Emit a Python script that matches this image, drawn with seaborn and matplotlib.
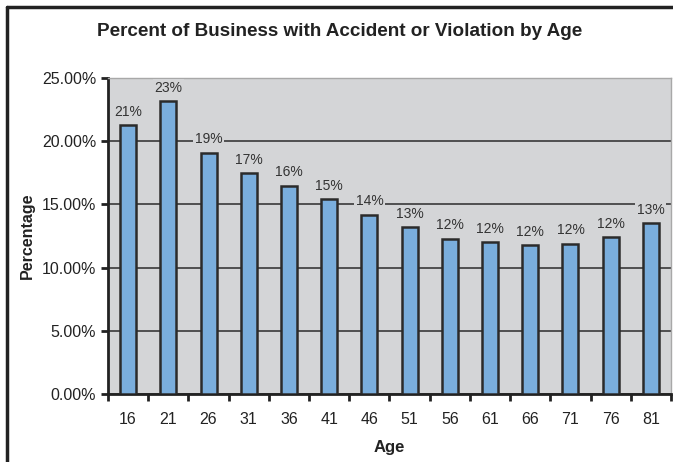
import numpy as np
import pandas as pd
import matplotlib
matplotlib.use("Agg")
import matplotlib.pyplot as plt
from matplotlib.lines import Line2D
from matplotlib.ticker import FuncFormatter, FixedLocator
import seaborn as sns

# data
ages = ["16", "21", "26", "31", "36", "41", "46", "51", "56", "61", "66", "71", "76", "81"]
pct = [21.3, 23.2, 19.1, 17.5, 16.5, 15.4, 14.2, 13.2, 12.3, 12.0, 11.8, 11.9, 12.4, 13.5]
labels = ["21%", "23%", "19%", "17%", "16%", "15%", "14%", "13%", "12%", "12%", "12%", "12%", "12%", "13%"]

df = pd.DataFrame({"Age": ages, "Percentage": pct})

sns.set_theme(style="white")
plt.rcParams["font.family"] = ["Liberation Sans", "DejaVu Sans"]

fig = plt.figure(figsize=(6.73, 4.62), dpi=100)
ax = fig.add_axes([0.1605, 0.147, 0.8365, 0.684])
ax.set_facecolor("#d4d5d7")

sns.barplot(data=df, x="Age", y="Percentage", color="#7aaedd", width=0.4,
            edgecolor="#2b2b2b", linewidth=1.8, saturation=1, ax=ax, zorder=3)

ax.set_ylim(0, 25)
ax.set_xlim(-0.5, len(ages) - 0.5)
ax.set_yticks(np.arange(0, 26, 5))
ax.yaxis.set_major_formatter(FuncFormatter(lambda v, p: f"{v:.2f}%"))
ax.grid(axis="y", color="#2b2b2b", linewidth=1.1, zorder=1)
ax.set_axisbelow(True)

# x ticks between categories
ax.xaxis.set_minor_locator(FixedLocator(np.arange(-0.5, len(ages), 1)))
ax.tick_params(axis="x", which="major", length=0, pad=13, labelsize=11.5, colors="#222222")
ax.tick_params(axis="x", which="minor", length=5, width=2, color="#222222", bottom=True)
ax.tick_params(axis="y", which="major", length=5, width=2, color="#222222", left=True,
               labelsize=11.5, labelcolor="#222222")

for side in ["left", "bottom"]:
    ax.spines[side].set_color("#222222")
    ax.spines[side].set_linewidth(2)
for side in ["top", "right"]:
    ax.spines[side].set_color("#a8a8a8")
    ax.spines[side].set_linewidth(1)

for i, (v, lab) in enumerate(zip(pct, labels)):
    ax.text(i, v + 0.5, lab, ha="center", va="bottom", fontsize=10, color="#333333",
            bbox=dict(facecolor="#d4d5d7", edgecolor="none", pad=1.2), zorder=4)

ax.set_xlabel("Age", fontsize=12, fontweight="bold", labelpad=9, color="#222222")
ax.set_ylabel("Percentage", fontsize=11.5, fontweight="bold", labelpad=5, color="#222222")
fig.text(0.505, 1 - 32 / 462, "Percent of Business with Accident or Violation by Age",
         ha="center", va="center", fontsize=13.6, fontweight="bold", color="#222222")

# outer chart frame (left and top edges visible in the reference)
fig.add_artist(Line2D([0.011, 0.011], [0.0, 0.985], transform=fig.transFigure,
                      color="#222222", linewidth=2.5))
fig.add_artist(Line2D([0.011, 1.0], [0.985, 0.985], transform=fig.transFigure,
                      color="#222222", linewidth=2.5))

fig.savefig("out.png", dpi=100)
